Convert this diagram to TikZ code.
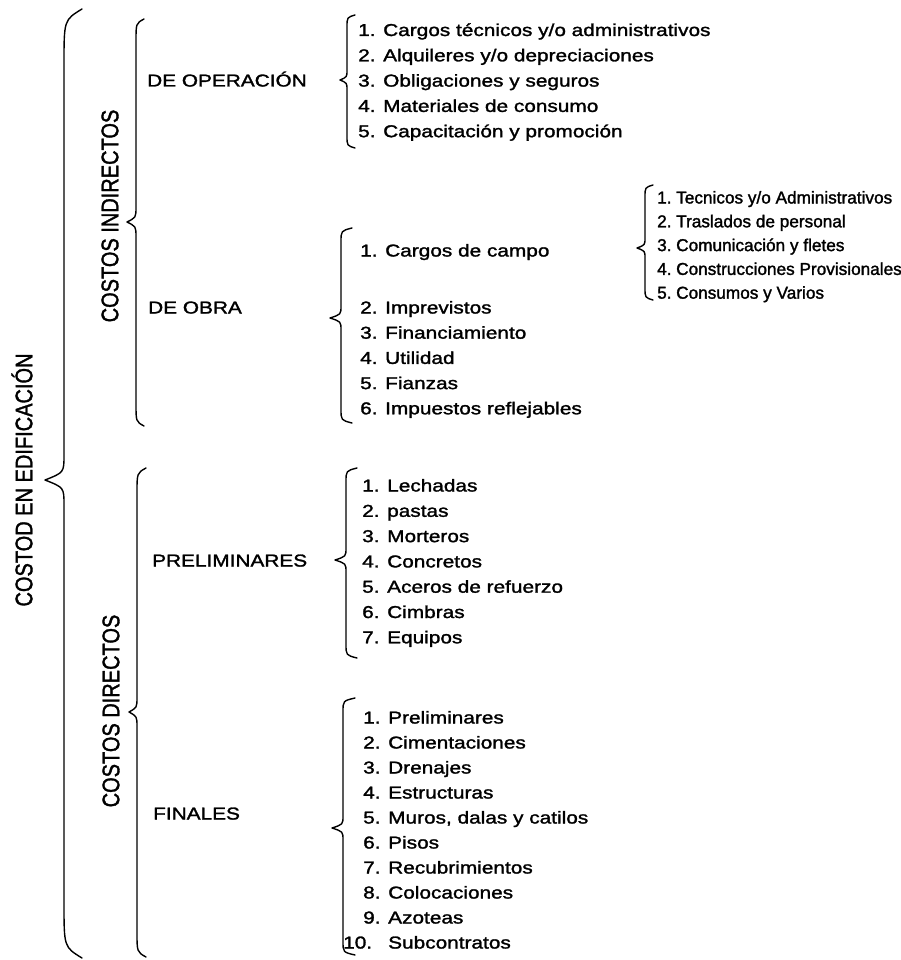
\documentclass[tikz,border=0pt]{standalone}
\usepackage{fontspec}
\setmainfont{Liberation Sans}[FakeStretch=1.21,FakeBold=1.6]
\newfontfamily\plainfont{Liberation Sans}[FakeBold=1.6]
\begin{document}
\begin{tikzpicture}[x=1pt,y=-1pt,
  item/.style={anchor=base west,inner sep=0pt,font=\fontsize{17.2}{20}\selectfont},
  subitem/.style={anchor=base west,inner sep=0pt,font=\plainfont\fontsize{17.2}{20}\selectfont},
  head/.style={anchor=base west,inner sep=0pt,font=\fontsize{17.2}{20}\selectfont},
  rot/.style={rotate=90,inner sep=0pt,font=\plainfont\fontsize{20}{24}\selectfont},
  braceline/.style={line width=1.4pt,line cap=round,line join=round}]
\useasboundingbox (0,0) rectangle (900,960);
\newcommand{\mybrace}[8]{%
  \draw[braceline] (#1,#4) .. controls (#2,{#4+0.2*#7}) .. (#2,{#4+#7})
    -- (#2,{#5-#8}) .. controls (#2,{#5-0.3*#8}) .. (#3,#5)
    .. controls (#2,{#5+0.3*#8}) .. (#2,{#5+#8})
    -- (#2,{#6-#7}) .. controls (#2,{#6-0.2*#7}) .. (#1,#6);}
% braces
\mybrace{82}{64}{45}{9}{480}{958}{55}{25}
\mybrace{144}{136}{127}{19}{222}{426}{22}{15}
\mybrace{146}{137}{129}{468}{712}{957}{25}{15}
\mybrace{355}{347}{340}{15}{80}{148}{12}{10}
\mybrace{352}{341}{330}{228}{318}{423}{14}{12}
\mybrace{653}{645}{637}{185}{248}{300}{12}{10}
\mybrace{357}{346}{335}{468}{560}{658}{14}{12}
\mybrace{355}{343}{332}{698}{828}{955}{14}{12}
% rotated labels
\node[rot] (total) at (22,480) {\scalebox{1}[1.2]{COSTOD EN EDIFICACIÓN}};
\node[rot] (ind) at (110,216) {\scalebox{1}[1.2]{COSTOS INDIRECTOS}};
\node[rot] (dir) at (111,711) {\scalebox{1}[1.2]{COSTOS DIRECTOS}};
% headers
\node[head] (oper) at (147,86.5) {DE OPERACIÓN};
\node[head] (obra) at (148,313.5) {DE OBRA};
\node[head] (prel) at (152,566.5) {PRELIMINARES};
\node[head] (fin) at (153,819.5) {FINALES};
% operacion items
\foreach \t [count=\i] in {Cargos técnicos y/o administrativos,Alquileres y/o depreciaciones,Obligaciones y seguros,Materiales de consumo,Capacitación y promoción}
  \node[item] (op\i) at (358,{36+25.3*(\i-1)}) {\makebox[25pt][l]{\i.}\t};
% obra items
\node[item] (ob1) at (360,256.5) {\makebox[25pt][l]{1.}Cargos de campo};
\foreach \t [count=\i from 2] in {Imprevistos,Financiamiento,Utilidad,Fianzas,Impuestos reflejables}
  \node[item] (ob\i) at (360,{313.5+25.2*(\i-2)}) {\makebox[25pt][l]{\i.}\t};
% campo items
\foreach \t [count=\i] in {Tecnicos y/o Administrativos,Traslados de personal,Comunicación y fletes,Construcciones Provisionales,Consumos y Varios}
  \node[subitem] (ca\i) at (657,{203.5+23.8*(\i-1)}) {\makebox[19pt][l]{\i.}\t};
% preliminares items
\foreach \t [count=\i] in {Lechadas,pastas,Morteros,Concretos,Aceros de refuerzo,Cimbras,Equipos}
  \node[item] (pr\i) at (362,{491.5+25.3*(\i-1)}) {\makebox[25pt][l]{\i.}\t};
% finales items
\foreach \t [count=\i] in {Preliminares,Cimentaciones,Drenajes,Estructuras,{Muros, dalas y catilos},Pisos,Recubrimientos,Colocaciones,Azoteas}
  \node[item] (fi\i) at (363,{723.5+25*(\i-1)}) {\makebox[25pt][l]{\i.}\t};
\node[item] (fi10) at (343,948.5) {\makebox[45pt][l]{10.}Subcontratos};
\end{tikzpicture}
\end{document}
